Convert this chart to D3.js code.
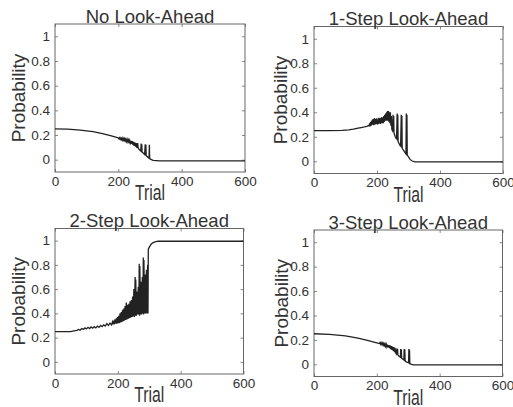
<!DOCTYPE html>
<html>
<head>
<meta charset="utf-8">
<script src="https://cdn.jsdelivr.net/npm/d3@7"></script>
<style>
  body { margin: 0; background: #fff; }
  svg { display: block; }
  text { font-family: "Liberation Sans", Arial, sans-serif; fill: #333; }
</style>
</head>
<body>
<div id="chart"></div>
<script>
const WIDTH = 513
const HEIGHT = 407

const titles = ["No Look-Ahead", "1-Step Look-Ahead", "2-Step Look-Ahead", "3-Step Look-Ahead"]
const xTicks = [0, 200, 400, 600]
const yTicks = [0, 0.2, 0.4, 0.6, 0.8, 1]
const yTickLabels = ["0", "0.2", "0.4", "0.6", "0.8", "1"]

// [trial, probability]
const noLookAhead = [
  [0, 0.25], [40, 0.248], [80, 0.24], [120, 0.228], [150, 0.212], [175, 0.195], [195, 0.18],
  [200, 0.177], [202, 0.168], [204, 0.178], [206, 0.165], [208, 0.176], [210, 0.162], [212, 0.175],
  [214, 0.158], [216, 0.172], [218, 0.155], [220, 0.17], [222, 0.152], [224, 0.167], [226, 0.148],
  [228, 0.164], [230, 0.144], [232, 0.16], [234, 0.14], [236, 0.157], [238, 0.135], [240, 0.153],
  [242, 0.128], [244, 0.15], [246, 0.12], [248, 0.145], [250, 0.112], [252, 0.14], [254, 0.105],
  [256, 0.135], [258, 0.098], [259, 0.132], [260, 0.095], [261, 0.135], [263, 0.09], [267, 0.08],
  [271, 0.07], [272, 0.13], [273, 0.065], [274, 0.125], [275, 0.062], [279, 0.052], [283, 0.042],
  [285, 0.125], [286, 0.036], [287, 0.12], [288, 0.033], [292, 0.024], [295, 0.016], [297, 0.012],
  [298, 0.12], [299, 0.008], [303, 0.002], [310, -0.006], [330, -0.01], [600, -0.01]
]

const oneStep = [
  [0, 0.25], [50, 0.25], [90, 0.252], [110, 0.256], [125, 0.262], [140, 0.27], [150, 0.275],
  [160, 0.28], [168, 0.285], [172, 0.29], [175, 0.29], [176.5, 0.31], [178, 0.285], [179.5, 0.32],
  [181, 0.29], [182.5, 0.33], [184, 0.295], [185.5, 0.34], [187, 0.3], [188.5, 0.345], [190, 0.295],
  [191.5, 0.35], [193, 0.3], [194.5, 0.345], [196, 0.3], [197.5, 0.35], [199, 0.305], [200.5, 0.34],
  [202, 0.3], [203.5, 0.35], [205, 0.305], [206.5, 0.355], [208, 0.31], [209.5, 0.35], [211, 0.305],
  [212.5, 0.355], [214, 0.31], [215.5, 0.36], [217, 0.31], [218.5, 0.355], [220, 0.31], [221.5, 0.37],
  [223, 0.32], [224.5, 0.38], [226, 0.33], [227.5, 0.39], [229, 0.33], [230.5, 0.4], [232, 0.33],
  [233.5, 0.41], [235, 0.33], [236.5, 0.41], [238, 0.32], [239.5, 0.4], [241, 0.31], [242.5, 0.4],
  [244, 0.29], [245.5, 0.37], [247, 0.26], [249, 0.25], [251, 0.38], [252, 0.24], [253, 0.37],
  [254, 0.23], [258, 0.2], [262, 0.18], [264, 0.39], [265, 0.17], [266, 0.38], [267, 0.16],
  [271, 0.14], [275, 0.12], [277, 0.38], [278, 0.11], [279, 0.37], [280, 0.105], [284, 0.09],
  [288, 0.075], [292, 0.06], [293, 0.39], [294, 0.055], [295, 0.38], [296, 0.05], [300, 0.035],
  [305, 0.015], [312, 0.002], [320, -0.005], [600, -0.005]
]

const twoStep = [
  [0, 0.25], [50, 0.25], [60, 0.255], [70, 0.26], [75, 0.268], [80, 0.262], [85, 0.275],
  [90, 0.268], [95, 0.28], [100, 0.272], [105, 0.285], [110, 0.275], [115, 0.288], [120, 0.278],
  [125, 0.29], [130, 0.28], [135, 0.295], [140, 0.285], [145, 0.3], [150, 0.29], [155, 0.305],
  [160, 0.295], [165, 0.315], [170, 0.3], [175, 0.32], [180, 0.305], [183, 0.33], [185, 0.31],
  [187, 0.34], [189, 0.31], [191, 0.35], [193, 0.315], [195, 0.36], [197, 0.315], [199, 0.37],
  [201, 0.32], [203, 0.38], [205, 0.32], [207, 0.4], [209, 0.325], [211, 0.41], [213, 0.33],
  [215, 0.43], [217, 0.335], [219, 0.44], [221, 0.34], [223, 0.46], [225, 0.345], [227, 0.49],
  [229, 0.35], [231, 0.47], [233, 0.355], [235, 0.48], [237, 0.36], [239, 0.5], [241, 0.365],
  [243, 0.51], [245, 0.37], [247, 0.54], [249, 0.375], [251, 0.6], [253, 0.37], [255, 0.7],
  [256, 0.38], [257, 0.68], [259, 0.38], [261, 0.58], [263, 0.39], [265, 0.62], [267, 0.39],
  [268, 0.81], [269, 0.38], [270, 0.79], [272, 0.39], [274, 0.66], [276, 0.39], [278, 0.7],
  [280, 0.4], [281, 0.86], [282, 0.39], [283, 0.84], [285, 0.4], [287, 0.72], [289, 0.4],
  [291, 0.76], [293, 0.4], [295, 0.8], [296, 0.4], [297, 0.93], [299, 0.94], [302, 0.955],
  [306, 0.97], [311, 0.982], [318, 0.99], [328, 0.995], [345, 0.995], [600, 0.995]
]

const threeStep = [
  [0, 0.25], [50, 0.245], [100, 0.232], [140, 0.215], [170, 0.195], [200, 0.175], [208, 0.17],
  [210, 0.178], [212, 0.164], [214, 0.176], [216, 0.162], [218, 0.174], [220, 0.157], [222, 0.171],
  [224, 0.153], [226, 0.168], [228, 0.148], [230, 0.165], [232, 0.143], [234, 0.161], [236, 0.138],
  [238, 0.158], [240, 0.132], [242, 0.155], [244, 0.125], [246, 0.15], [248, 0.117], [250, 0.146],
  [252, 0.11], [254, 0.14], [256, 0.1], [258, 0.135], [260, 0.092], [262, 0.085], [264, 0.13],
  [265, 0.08], [266, 0.125], [267, 0.077], [271, 0.066], [275, 0.058], [276, 0.125], [277, 0.055],
  [278, 0.12], [279, 0.05], [283, 0.042], [286, 0.036], [287, 0.125], [288, 0.032], [289, 0.12],
  [290, 0.028], [294, 0.02], [298, 0.015], [301, 0.012], [302, 0.125], [303, 0.008], [304, 0.12],
  [305, 0.005], [309, 0.001], [315, -0.004], [600, -0.005]
]

const series = [noLookAhead, oneStep, twoStep, threeStep]

// plot boxes: left, right, top, bottom, y-label baseline offset
const panels = [
  { left: 55, right: 245, top: 24, bottom: 172, labelOffset: 30 },
  { left: 314, right: 503, top: 26.5, bottom: 173.5, labelOffset: 27 },
  { left: 55, right: 243.5, top: 228.5, bottom: 374, labelOffset: 30 },
  { left: 314, right: 502.5, top: 230, bottom: 376.5, labelOffset: 26 },
]

const svg = d3.select("#chart")
              .append("svg")
              .attr("width", WIDTH)
              .attr("height", HEIGHT)

function drawPanel(p, title, data) {
  const w = p.right - p.left
  const h = p.bottom - p.top
  const g = svg.append("g")
               .attr("transform", `translate(${p.left}, ${p.top})`)

  const x = d3.scaleLinear().domain([0, 600]).range([0, w])
  const y = d3.scaleLinear().domain([-0.1, 1.1]).range([h, 0])

  const xAxis = g.append("g")
                 .attr("transform", `translate(0, ${h})`)
                 .call(d3.axisBottom(x).tickValues(xTicks).tickSizeInner(-3).tickSizeOuter(0).tickPadding(4))
  const xTop = g.append("g")
                .call(d3.axisTop(x).tickValues(xTicks).tickSizeInner(-3).tickSizeOuter(0).tickFormat(""))
  const yAxis = g.append("g")
                 .call(d3.axisLeft(y).tickValues(yTicks).tickSizeInner(-3).tickSizeOuter(0).tickPadding(5)
                         .tickFormat((d, i) => yTickLabels[i]))
  const yRight = g.append("g")
                  .attr("transform", `translate(${w}, 0)`)
                  .call(d3.axisRight(y).tickValues(yTicks).tickSizeInner(-3).tickSizeOuter(0).tickFormat(""))

  ;[xAxis, xTop, yAxis, yRight].forEach(a => {
    a.select(".domain").remove()
    a.selectAll("line").attr("stroke", "#888")
    a.selectAll("text")
     .attr("font-size", 13.5)
     .attr("font-family", "Liberation Sans, Arial, sans-serif")
     .attr("fill", "#3a3a3a")
  })

  g.append("rect")
   .attr("width", w)
   .attr("height", h)
   .attr("fill", "none")
   .attr("stroke", "#666")
   .attr("stroke-width", 1)

  const line = d3.line()
                 .x(d => x(d[0]))
                 .y(d => y(d[1]))

  g.append("path")
   .datum(data)
   .attr("fill", "none")
   .attr("stroke", "#222")
   .attr("stroke-width", 1.3)
   .attr("d", line)

  g.append("text")
   .attr("x", w / 2)
   .attr("y", -1.5)
   .attr("text-anchor", "middle")
   .attr("font-size", 18.5)
   .attr("fill", "#3a3a3a")
   .text(title)

  g.append("text")
   .attr("transform", `translate(${-p.labelOffset}, ${h / 2}) rotate(-90)`)
   .attr("text-anchor", "middle")
   .attr("font-size", 19)
   .attr("fill", "#3a3a3a")
   .text("Probability")

  g.append("text")
   .attr("x", w / 2)
   .attr("y", h + 28)
   .attr("text-anchor", "middle")
   .attr("font-size", 22)
   .attr("textLength", 30)
   .attr("lengthAdjust", "spacingAndGlyphs")
   .attr("fill", "#3a3a3a")
   .text("Trial")
}

panels.forEach((p, i) => drawPanel(p, titles[i], series[i]))
</script>
</body>
</html>
